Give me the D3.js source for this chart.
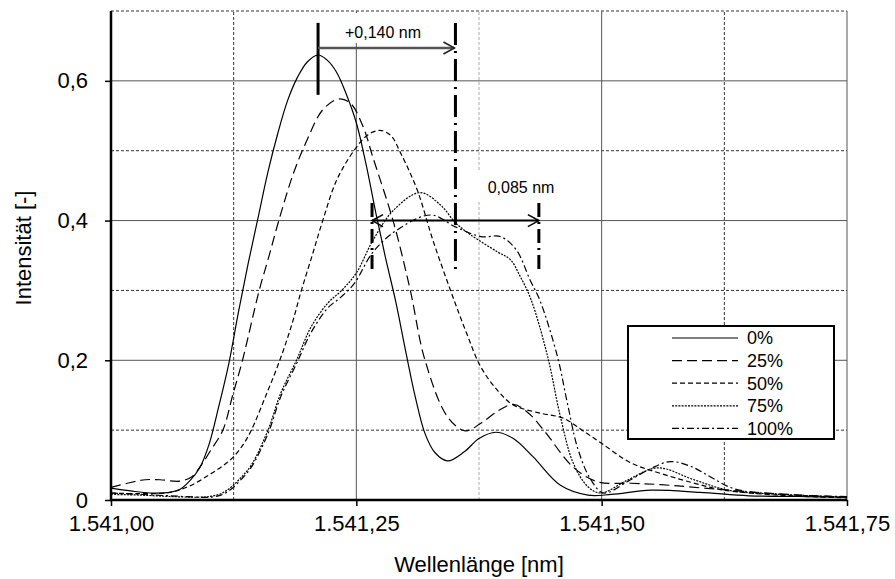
<!DOCTYPE html>
<html>
<head>
<meta charset="utf-8">
<script src="https://cdn.jsdelivr.net/npm/d3@7"></script>
<style>
  body { margin: 0; background: #fff; }
  text { font-family: "Liberation Sans", Arial, sans-serif; fill: #000; }
</style>
</head>
<body>
<svg class="display"></svg>
<script>
// series names (legend)
const series = ['0%', '25%', '50%', '75%', '100%'];

// wavelength [nm] / intensity [-], one pair per series
const wl0 = [1541.000, 1541.020, 1541.040, 1541.060, 1541.070, 1541.080, 1541.090, 1541.100, 1541.110, 1541.120,
  1541.130, 1541.140, 1541.150, 1541.160, 1541.170, 1541.180, 1541.190, 1541.200, 1541.211, 1541.220,
  1541.230, 1541.240, 1541.250, 1541.260, 1541.270, 1541.280, 1541.290, 1541.300, 1541.310, 1541.320,
  1541.330, 1541.343, 1541.360, 1541.375, 1541.392, 1541.410, 1541.430, 1541.458, 1541.486, 1541.510,
  1541.550, 1541.600, 1541.650, 1541.700, 1541.750];
const int0 = [0.017, 0.013, 0.010, 0.011, 0.015, 0.027, 0.045, 0.080, 0.135, 0.195,
  0.270, 0.340, 0.405, 0.470, 0.525, 0.572, 0.605, 0.627, 0.637, 0.630,
  0.612, 0.580, 0.540, 0.480, 0.410, 0.345, 0.285, 0.215, 0.148, 0.095,
  0.068, 0.056, 0.069, 0.088, 0.097, 0.088, 0.062, 0.021, 0.007, 0.008,
  0.014, 0.011, 0.006, 0.005, 0.004];

const wl25 = [1541.000, 1541.020, 1541.035, 1541.050, 1541.070, 1541.082, 1541.092, 1541.102, 1541.114, 1541.124,
  1541.134, 1541.151, 1541.160, 1541.171, 1541.186, 1541.200, 1541.216, 1541.232, 1541.244, 1541.257,
  1541.267, 1541.288, 1541.305, 1541.320, 1541.343, 1541.361, 1541.377, 1541.395, 1541.410, 1541.425,
  1541.441, 1541.471, 1541.496, 1541.530, 1541.560, 1541.630, 1541.690, 1541.750];
const int25 = [0.018, 0.025, 0.029, 0.029, 0.027, 0.033, 0.050, 0.072, 0.100, 0.150,
  0.200, 0.300, 0.344, 0.400, 0.468, 0.516, 0.559, 0.574, 0.568, 0.534,
  0.490, 0.397, 0.300, 0.200, 0.119, 0.099, 0.110, 0.128, 0.137, 0.125,
  0.100, 0.047, 0.026, 0.024, 0.022, 0.014, 0.008, 0.004];

const wl50 = [1541.000, 1541.030, 1541.060, 1541.080, 1541.100, 1541.115, 1541.125, 1541.135, 1541.143, 1541.158,
  1541.172, 1541.184, 1541.194, 1541.205, 1541.216, 1541.230, 1541.248, 1541.262, 1541.274, 1541.285,
  1541.295, 1541.312, 1541.328, 1541.346, 1541.362, 1541.377, 1541.395, 1541.410, 1541.435, 1541.461,
  1541.480, 1541.499, 1541.530, 1541.560, 1541.600, 1541.625, 1541.680, 1541.750];
const int50 = [0.010, 0.009, 0.011, 0.020, 0.036, 0.050, 0.062, 0.080, 0.100, 0.150,
  0.200, 0.250, 0.300, 0.350, 0.401, 0.458, 0.501, 0.523, 0.529, 0.522,
  0.497, 0.444, 0.372, 0.300, 0.240, 0.190, 0.155, 0.136, 0.125, 0.117,
  0.100, 0.082, 0.053, 0.038, 0.022, 0.014, 0.007, 0.003];

const wl75 = [1541.000, 1541.030, 1541.060, 1541.090, 1541.100, 1541.112, 1541.122, 1541.133, 1541.143, 1541.160,
  1541.173, 1541.189, 1541.204, 1541.221, 1541.235, 1541.250, 1541.267, 1541.288, 1541.315, 1541.336,
  1541.351, 1541.366, 1541.394, 1541.407, 1541.417, 1541.428, 1541.445, 1541.458, 1541.471, 1541.486,
  1541.499, 1541.527, 1541.557, 1541.594, 1541.629, 1541.683, 1541.750];
const int75 = [0.008, 0.007, 0.005, 0.004, 0.005, 0.009, 0.018, 0.033, 0.050, 0.100,
  0.153, 0.200, 0.248, 0.282, 0.300, 0.325, 0.372, 0.415, 0.440, 0.422,
  0.397, 0.380, 0.355, 0.344, 0.320, 0.287, 0.205, 0.119, 0.053, 0.019,
  0.010, 0.029, 0.046, 0.029, 0.014, 0.008, 0.004];

const wl100 = [1541.000, 1541.030, 1541.060, 1541.090, 1541.100, 1541.112, 1541.122, 1541.133, 1541.143, 1541.160,
  1541.173, 1541.189, 1541.204, 1541.221, 1541.234, 1541.248, 1541.267, 1541.292, 1541.326, 1541.351,
  1541.377, 1541.397, 1541.413, 1541.427, 1541.437, 1541.455, 1541.465, 1541.476, 1541.489, 1541.502,
  1541.527, 1541.550, 1541.570, 1541.591, 1541.611, 1541.635, 1541.683, 1541.750];
const int100 = [0.010, 0.008, 0.006, 0.004, 0.004, 0.007, 0.015, 0.030, 0.047, 0.095,
  0.148, 0.195, 0.240, 0.275, 0.290, 0.310, 0.355, 0.387, 0.408, 0.391,
  0.377, 0.377, 0.358, 0.315, 0.286, 0.205, 0.139, 0.072, 0.029, 0.010,
  0.027, 0.045, 0.055, 0.048, 0.033, 0.016, 0.008, 0.005];

const xTicks = [1541.00, 1541.25, 1541.50, 1541.75];
const yTicks = [0, 0.2, 0.4, 0.6];

// annotation: peak of 0% and the two shifts
const peakWl = 1541.211;
const shiftA = 0.140;
const shiftB = 0.085;

const width = 895;
const height = 579;

const svg = d3.select('.display')
  .attr('width', width)
  .attr('height', height);

const x = d3.scaleLinear().domain([1541.00, 1541.75]).range([111, 847]);
const y = d3.scaleLinear().domain([0, 0.7]).range([500, 11]);

const de = d3.formatLocale({decimal: ',', thousands: '.', grouping: [3], currency: ['', ' €']});
const xFmt = de.format(',.2f');
const yFmt = v => v === 0 ? '0' : de.format('.1f')(v);

// grid
const minorX = [1541.125, 1541.375, 1541.625];
const majorX = [1541.25, 1541.50, 1541.75];
const minorY = [0.1, 0.3, 0.5, 0.7];
const majorY = [0.2, 0.4, 0.6];

const grid = svg.append('g');
grid.selectAll('.gmy').data(minorY).enter().append('line')
  .attr('x1', x(1541)).attr('x2', x(1541.75))
  .attr('y1', d => y(d)).attr('y2', d => y(d))
  .attr('stroke', '#333').attr('stroke-dasharray', '3,2');
grid.selectAll('.gmx').data(minorX).enter().append('line')
  .attr('x1', d => x(d)).attr('x2', d => x(d))
  .attr('y1', y(0)).attr('y2', y(0.7))
  .attr('stroke', (d, i) => i === 1 ? '#aaa' : '#333').attr('stroke-dasharray', '3,2');
grid.selectAll('.gMy').data(majorY).enter().append('line')
  .attr('x1', x(1541)).attr('x2', x(1541.75))
  .attr('y1', d => y(d)).attr('y2', d => y(d))
  .attr('stroke', '#555');
grid.selectAll('.gMx').data(majorX).enter().append('line')
  .attr('x1', d => x(d)).attr('x2', d => x(d))
  .attr('y1', y(0)).attr('y2', y(0.7))
  .attr('stroke', '#555');

// curves
const dashes = ['none', '10,5', '5,3', '2,1.2', '7,3,2,3'];
const data = [
  d3.zip(wl0, int0), d3.zip(wl25, int25), d3.zip(wl50, int50),
  d3.zip(wl75, int75), d3.zip(wl100, int100)
];

const line = d3.line()
  .x(d => x(d[0]))
  .y(d => y(d[1]))
  .curve(d3.curveCatmullRom.alpha(0.5));

svg.append('g').selectAll('path').data(data).enter().append('path')
  .attr('d', line)
  .attr('fill', 'none')
  .attr('stroke', '#000')
  .attr('stroke-width', 1.2)
  .attr('stroke-dasharray', (d, i) => dashes[i]);

// annotations
const ann = svg.append('g');
const arrowY = 0.647;
const bracketY = 0.4;

function head(xp, yp, dir) {
  return 'M' + (xp - dir * 11) + ',' + (yp - 6) + 'L' + xp + ',' + yp + 'L' + (xp - dir * 11) + ',' + (yp + 6);
}

ann.append('rect')
  .attr('x', x(peakWl) + 24).attr('y', y(0.7) + 2).attr('width', 80).attr('height', 30)
  .attr('fill', '#fff');
ann.append('line')
  .attr('x1', x(peakWl)).attr('x2', x(peakWl))
  .attr('y1', y(0.683)).attr('y2', y(0.58))
  .attr('stroke', '#000').attr('stroke-width', 3);
ann.append('line')
  .attr('x1', x(peakWl)).attr('x2', x(peakWl + shiftA) - 1)
  .attr('y1', y(arrowY)).attr('y2', y(arrowY))
  .attr('stroke', '#555').attr('stroke-width', 2.5);
ann.append('path')
  .attr('d', head(x(peakWl + shiftA) - 1, y(arrowY), 1))
  .attr('fill', 'none').attr('stroke', '#222').attr('stroke-width', 1.5);
ann.append('line')
  .attr('x1', x(peakWl + shiftA)).attr('x2', x(peakWl + shiftA))
  .attr('y1', y(0.683)).attr('y2', y(0.33))
  .attr('stroke', '#000').attr('stroke-width', 3)
  .attr('stroke-dasharray', '22,6,2,6');
ann.append('text')
  .attr('x', 383).attr('y', 38)
  .attr('text-anchor', 'middle').style('font-size', '16px')
  .text('+0,140 nm');

const c = peakWl + shiftA;
ann.append('rect')
  .attr('x', x(c) + 22).attr('y', 170).attr('width', 90).attr('height', 30)
  .attr('fill', '#fff');
ann.append('line')
  .attr('x1', x(c - shiftB)).attr('x2', x(c + shiftB))
  .attr('y1', y(bracketY)).attr('y2', y(bracketY))
  .attr('stroke', '#000').attr('stroke-width', 2);
ann.append('path')
  .attr('d', head(x(c + shiftB), y(bracketY), 1) + head(x(c - shiftB), y(bracketY), -1))
  .attr('fill', 'none').attr('stroke', '#000').attr('stroke-width', 1.5);
ann.selectAll('.vb').data([c - shiftB, c + shiftB]).enter().append('line')
  .attr('x1', d => x(d)).attr('x2', d => x(d))
  .attr('y1', y(0.425)).attr('y2', y(0.33))
  .attr('stroke', '#000').attr('stroke-width', 3)
  .attr('stroke-dasharray', '14,5,2,5');
ann.append('text')
  .attr('x', 521).attr('y', 193)
  .attr('text-anchor', 'middle').style('font-size', '16px')
  .text('0,085 nm');

// axes
const xAxis = svg.append('g')
  .attr('transform', 'translate(0,' + y(0) + ')')
  .call(d3.axisBottom(x).tickValues(xTicks).tickSize(6).tickPadding(9).tickFormat(xFmt));
xAxis.select('.domain').remove();
xAxis.selectAll('text').style('font-size', '22px');
xAxis.selectAll('line').attr('stroke-width', 1.5);

const yAxis = svg.append('g')
  .attr('transform', 'translate(' + x(1541) + ',0)')
  .call(d3.axisLeft(y).tickValues(yTicks).tickSize(6).tickPadding(17).tickFormat(yFmt));
yAxis.select('.domain').remove();
yAxis.selectAll('text').style('font-size', '22px');
yAxis.selectAll('line').attr('stroke-width', 1.5);

svg.append('line')
  .attr('x1', x(1541) - 1).attr('x2', x(1541.75))
  .attr('y1', y(0)).attr('y2', y(0))
  .attr('stroke', '#000').attr('stroke-width', 2.5);
svg.append('line')
  .attr('x1', x(1541)).attr('x2', x(1541))
  .attr('y1', y(0.7)).attr('y2', y(0) + 1)
  .attr('stroke', '#000').attr('stroke-width', 2.5);

svg.append('text')
  .attr('x', (x(1541) + x(1541.75)) / 2).attr('y', 572)
  .attr('text-anchor', 'middle').style('font-size', '22px')
  .text('Wellenlänge [nm]');
svg.append('text')
  .attr('transform', 'translate(31,' + 248 + ') rotate(-90)')
  .attr('text-anchor', 'middle').style('font-size', '22px')
  .text('Intensität [-]');

// legend
const legend = svg.append('g');
legend.append('rect')
  .attr('x', 628).attr('y', 326).attr('width', 206).attr('height', 113)
  .attr('fill', '#fff').attr('stroke', '#000').attr('stroke-width', 2);
const item = legend.selectAll('.item').data(series).enter().append('g')
  .attr('transform', (d, i) => 'translate(0,' + (338 + i * 22.6) + ')');
item.append('line')
  .attr('x1', 672).attr('x2', 738)
  .attr('stroke', '#000').attr('stroke-width', 1.2)
  .attr('stroke-dasharray', (d, i) => dashes[i]);
item.append('text')
  .attr('x', 747).attr('dy', '0.35em')
  .style('font-size', '18px')
  .text(d => d);
</script>
</body>
</html>
